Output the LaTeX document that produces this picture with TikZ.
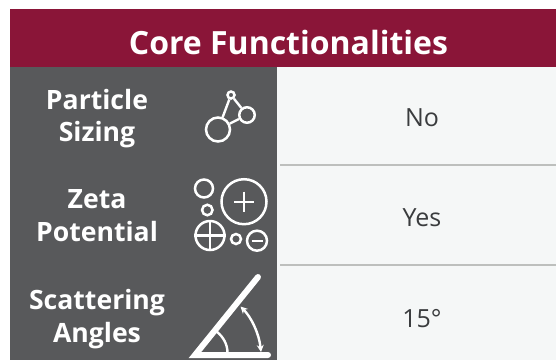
\documentclass[tikz,border=0pt]{standalone}
\usepackage{fontspec}
\setmainfont{Open Sans}
\usetikzlibrary{arrows.meta}
\definecolor{maroon}{HTML}{8A1538}
\definecolor{panel}{HTML}{58595B}
\definecolor{cell}{HTML}{F5F7F7}
\definecolor{rule}{HTML}{BDBFBD}
\definecolor{ink}{HTML}{3A3C3E}
\tikzset{
  lbl/.style={font=\fontsize{26.6}{26.6}\selectfont\bfseries,text=white,anchor=base,inner sep=0pt},
  val/.style={font=\fontsize{25}{25}\selectfont,text=ink,anchor=base,inner sep=0pt},
  ring/.style={circle,draw=white,line width=2.5pt,inner sep=0pt,minimum size=#1},
  icon/.style={draw=white,line width=2.4pt},
  bar/.style={draw=white,line width=6pt,line cap=round},
}
\begin{document}
\begin{tikzpicture}[x=1pt,y=-1pt]
\useasboundingbox (0,0) rectangle (556,360);
\fill[white] (0,0) rectangle (556,360);
\fill[cell] (277,67) rectangle (556,360);
\fill[panel] (10,67) rectangle (277,360);
\fill[maroon] (10,8.5) rectangle (556,67);
\draw[rule,line width=1.3pt] (280,165) -- (556,165);
\draw[rule,line width=1.3pt] (280,265) -- (556,265);
\node[font=\fontsize{32}{32}\selectfont\bfseries,text=white,anchor=base,inner sep=0pt] (title) at (288.5,54) {Core Functionalities};
\node[lbl] (l1a) at (97,109) {Particle};
\node[lbl] (l1b) at (97,141) {Sizing};
\node[lbl] (l2a) at (97,208) {Zeta};
\node[lbl] (l2b) at (97,241) {Potential};
\node[lbl] (l3a) at (97,309) {Scattering};
\node[lbl] (l3b) at (97,342) {Angles};
\node[val] (v1) at (422,126) {No};
\node[val] (v2) at (422,226) {Yes};
\node[val] (v3) at (422,327) {15°};
% particle icon
\node[ring=7pt] (ps) at (231,95) {};
\node[ring=15.5pt] (pm) at (247,115) {};
\node[ring=24pt] (pb) at (218,129.5) {};
\draw[icon] (ps) -- (pb);
\draw[icon] (ps) -- (pm);
\draw[icon] (pb) -- (pm);
% zeta icon
\node[ring=18pt] (z1) at (204,188.5) {};
\node[ring=10.5pt] (z2) at (207.3,210) {};
\node[ring=45pt] (z3) at (244,201.7) {};
\node[ring=29pt] (z4) at (210,235.5) {};
\node[ring=10pt] (z5) at (236,239) {};
\node[ring=20pt] (z6) at (257,240.7) {};
\draw[icon] (z3.center) ++(-10,0) -- ++(20,0);
\draw[icon] (z3.center) ++(0,-10) -- ++(0,20);
\draw[icon] (z4.north) -- (z4.south);
\draw[icon] (z4.west) -- (z4.east);
\draw[icon] (z6.center) ++(-5.5,0) -- ++(11,0);
% angle icon
\coordinate (ao) at (195,355);
\coordinate (at) at (258,277);
\coordinate (ae) at (268,355);
\draw[bar] (at) -- (ao) -- (ae);
\coordinate (a1) at (216.7,331.7);
\coordinate (a2) at (227.5,353);
\draw[icon] (a1) .. controls (223,336.5) and (227.5,344) .. (a2);
\coordinate (b1) at (240.5,306.5);
\coordinate (b2) at (261,352);
\draw[icon,{Stealth[length=7pt,width=7pt]}-{Stealth[length=7pt,width=7pt]}] (b1) .. controls (251,317) and (259,333) .. (b2);
\end{tikzpicture}
\end{document}
